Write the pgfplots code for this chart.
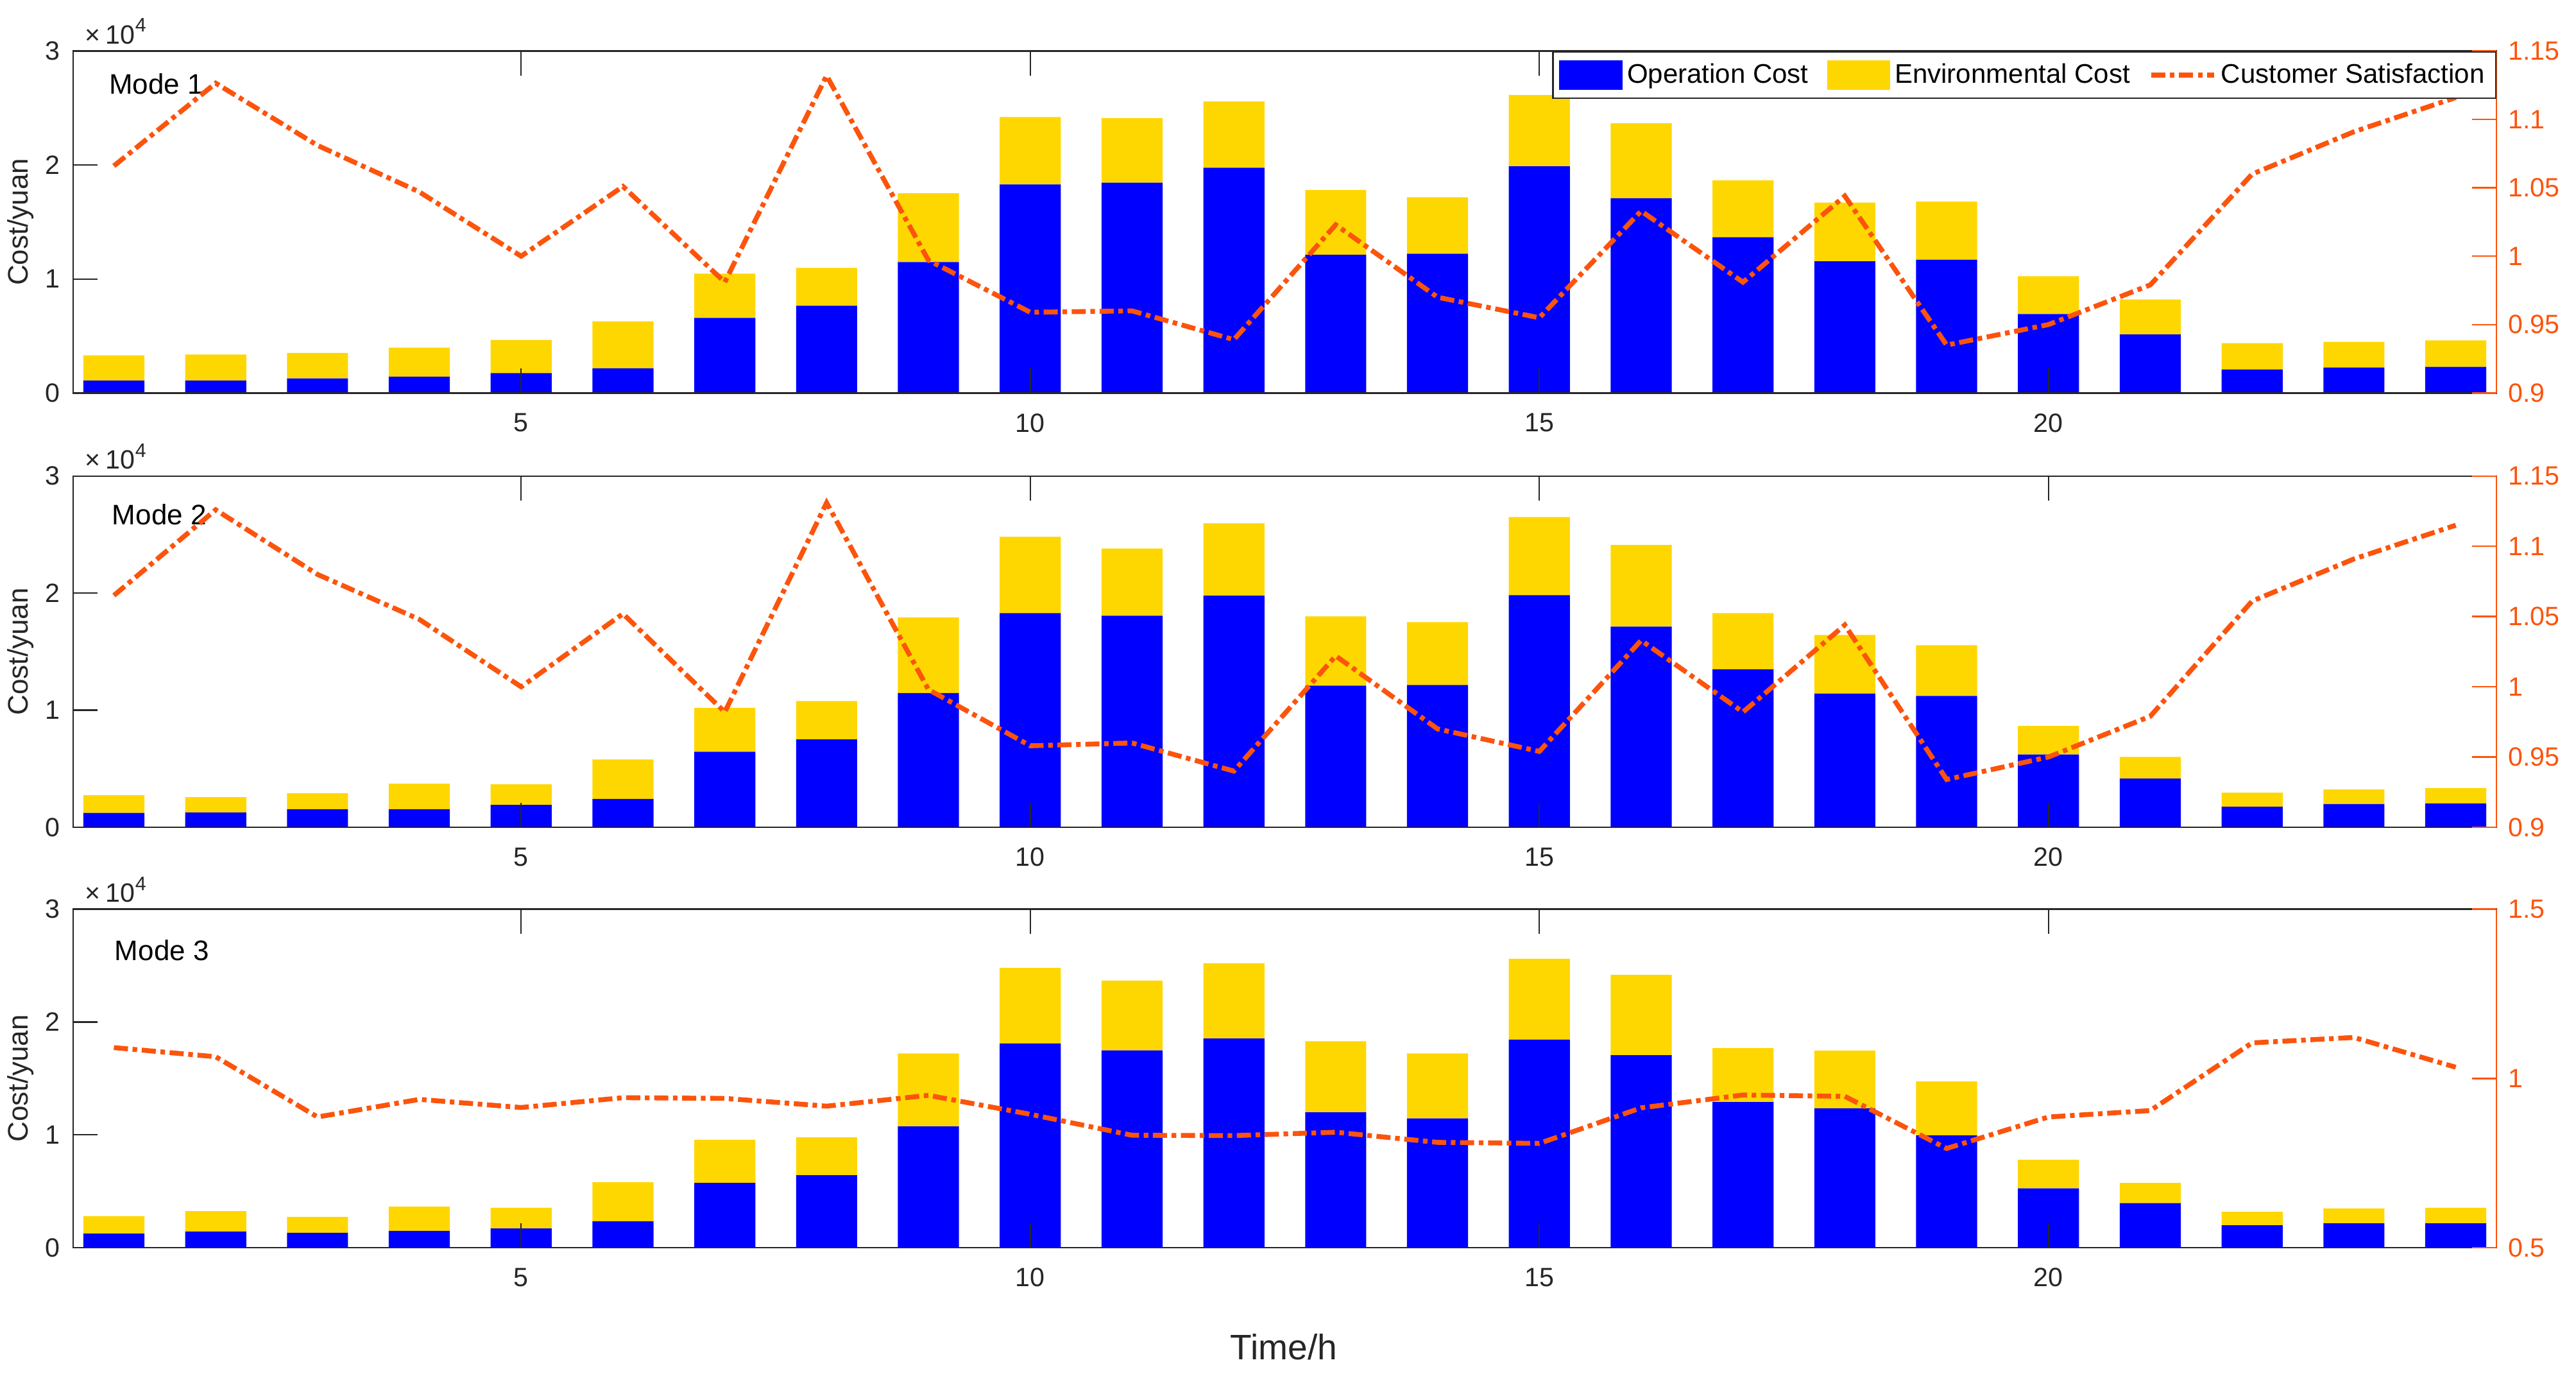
\documentclass[border=0pt]{standalone}
\usepackage{pgfplots}
\usepackage{pgfplotstable}
\usepackage{fontspec}
\setmainfont{Liberation Sans}
\pgfplotsset{compat=1.18}
\definecolor{axgray}{RGB}{38,38,38}
\definecolor{orng}{RGB}{252,84,12}
\definecolor{gld}{RGB}{255,215,0}
\definecolor{opblue}{RGB}{0,0,255}
\newcommand\ticksize{\fontsize{10.3}{12}\selectfont}
\newcommand\legsize{\fontsize{10.5}{12}\selectfont}
\newcommand\modesize{\fontsize{11}{13}\selectfont}
\newcommand\tenfour{×\hspace{2.2pt}10\raisebox{4.6pt}{\fontsize{7.6}{8}\selectfont 4}}

\pgfplotstableread{
x op env sat
1 1100 2200 1.066
2 1100 2270 1.1265
3 1280 2240 1.081
4 1430 2550 1.047
5 1740 2920 1.000
6 2160 4130 1.051
7 6590 3880 0.981
8 7650 3320 1.132
9 11480 6040 0.997
10 18300 5910 0.959
11 18450 5660 0.960
12 19760 5810 0.939
13 12130 5670 1.023
14 12210 4960 0.970
15 19880 6250 0.955
16 17090 6570 1.033
17 13670 4980 0.981
18 11550 5160 1.044
19 11700 5090 0.935
20 6920 3320 0.950
21 5130 3080 0.979
22 2060 2320 1.060
23 2240 2240 1.091
24 2290 2320 1.116
}\dataA

\pgfplotstableread{
x op env sat
1 1220 1520 1.065
2 1270 1300 1.126
3 1540 1370 1.080
4 1540 2180 1.048
5 1910 1760 1.000
6 2420 3370 1.052
7 6450 3750 0.982
8 7510 3270 1.131
9 11470 6450 0.998
10 18290 6530 0.958
11 18070 5740 0.960
12 19780 6190 0.940
13 12100 5920 1.022
14 12150 5380 0.970
15 19830 6670 0.954
16 17140 6970 1.033
17 13500 4790 0.982
18 11420 5010 1.044
19 11220 4330 0.934
20 6210 2450 0.950
21 4160 1850 0.979
22 1760 1200 1.061
23 1980 1250 1.091
24 2030 1320 1.115
}\dataB

\pgfplotstableread{
x op env sat
1 1240 1540 1.091
2 1430 1800 1.064
3 1320 1400 0.886
4 1480 2160 0.938
5 1700 1830 0.914
6 2340 3460 0.943
7 5740 3830 0.941
8 6420 3360 0.918
9 10750 6470 0.950
10 18090 6710 0.894
11 17490 6180 0.832
12 18540 6660 0.831
13 11990 6310 0.841
14 11460 5760 0.811
15 18440 7170 0.808
16 17060 7120 0.913
17 12910 4770 0.951
18 12350 5120 0.947
19 9950 4790 0.793
20 5260 2530 0.886
21 3940 1800 0.905
22 1990 1190 1.105
23 2160 1320 1.121
24 2160 1370 1.033
}\dataC

\pgfplotsset{
  leftax/.style={
    scale only axis, width=944.25pt, anchor=south west,
    xmin=0.6, xmax=24.4, ymin=0, ymax=30000,
    xtick={5,10,15,20}, ytick={0,10000,20000,30000}, yticklabels={0,1,2,3},
    scaled y ticks=false,
    xtick pos=both, ytick pos=left, tick align=inside, major tick length=9.5pt,
    axis line style={draw=axgray, line width=0.6pt},
    tick style={draw=axgray, line width=0.6pt},
    ticklabel style={font=\ticksize, text=axgray},
    xticklabel style={yshift=-4.5pt}, yticklabel style={xshift=-1.5pt},
    /pgf/number format/assume math mode=true,
    ybar stacked, bar width=0.6, axis on top, clip mode=individual,
  },
  rightax/.style={
    scale only axis, width=944.25pt, anchor=south west,
    xmin=0.6, xmax=24.4,
    axis x line=none, axis y line*=right,
    tick align=inside, major tick length=9.5pt,
    y axis line style={-, draw=orng, line width=0.6pt},
    ytick style={draw=orng, line width=0.6pt},
    yticklabel style={font=\ticksize, text=orng, xshift=1pt},
    /pgf/number format/assume math mode=true,
  },
  satline/.style={draw=orng, line width=1.9pt, dash pattern=on 5.5pt off 1.8pt on 1.8pt off 1.8pt, mark=none,
    legend image code/.code={\draw[##1] (0pt,0pt) -- (24.5pt,0pt);}},
}

\begin{document}
\begin{tikzpicture}
\useasboundingbox (0,0) rectangle (1003.75pt,535.75pt);

% ---------- Panel 1 ----------
\begin{axis}[leftax, at={(28.5pt,382.67pt)}, height=133.2pt]
\addplot[fill=opblue, draw=none] table[x=x,y=op]{\dataA};
\addplot[fill=gld, draw=none] table[x=x,y=env]{\dataA};
\node[anchor=base west, xshift=1pt, yshift=2.8pt, font=\ticksize, text=axgray] at (rel axis cs:0,1) {\tenfour};
\node[anchor=base west, xshift=10.5pt, yshift=-16.7pt, font=\modesize] at (rel axis cs:0,1) {Mode 1};
\end{axis}
\begin{axis}[rightax, at={(28.5pt,382.67pt)}, height=133.2pt,
  ymin=0.9, ymax=1.15, ytick={0.9,0.95,1,1.05,1.1,1.15}, yticklabels={0.9,0.95,1,1.05,1.1,1.15},
  legend columns=3,
  legend style={at={(1,1)}, anchor=north east, draw=axgray, line width=0.6pt, fill=white,
    font=\legsize, inner xsep=2.5pt, inner ysep=3pt,
    nodes={inner xsep=1.8pt, inner ysep=1.5pt, text=black},
    /tikz/every even column/.append style={column sep=5.5pt}}]
\addlegendimage{legend image code/.code={\fill[opblue] (0pt,-5.4pt) rectangle (24pt,5.4pt);}}
\addlegendentry{Operation Cost}
\addlegendimage{legend image code/.code={\fill[gld] (0pt,-5.4pt) rectangle (24pt,5.4pt);}}
\addlegendentry{Environmental Cost}
\addplot[satline] table[x=x,y=sat]{\dataA};
\addlegendentry{Customer Satisfaction}
\end{axis}

% ---------- Panel 2 ----------
\begin{axis}[leftax, at={(28.5pt,213.5pt)}, height=136.8pt]
\addplot[fill=opblue, draw=none] table[x=x,y=op]{\dataB};
\addplot[fill=gld, draw=none] table[x=x,y=env]{\dataB};
\node[anchor=base west, xshift=1pt, yshift=2.8pt, font=\ticksize, text=axgray] at (rel axis cs:0,1) {\tenfour};
\node[anchor=base west, xshift=11.7pt, yshift=-18.8pt, font=\modesize] at (rel axis cs:0,1) {Mode 2};
\end{axis}
\begin{axis}[rightax, at={(28.5pt,213.5pt)}, height=136.8pt,
  ymin=0.9, ymax=1.15, ytick={0.9,0.95,1,1.05,1.1,1.15}, yticklabels={0.9,0.95,1,1.05,1.1,1.15}]
\addplot[satline] table[x=x,y=sat]{\dataB};
\end{axis}

% ---------- Panel 3 ----------
\begin{axis}[leftax, at={(28.5pt,49.75pt)}, height=131.85pt]
\addplot[fill=opblue, draw=none] table[x=x,y=op]{\dataC};
\addplot[fill=gld, draw=none] table[x=x,y=env]{\dataC};
\node[anchor=base west, xshift=1pt, yshift=2.8pt, font=\ticksize, text=axgray] at (rel axis cs:0,1) {\tenfour};
\node[anchor=base west, xshift=12.7pt, yshift=-20pt, font=\modesize] at (rel axis cs:0,1) {Mode 3};
\end{axis}
\begin{axis}[rightax, at={(28.5pt,49.75pt)}, height=131.85pt,
  ymin=0.5, ymax=1.5, ytick={0.5,1,1.5}, yticklabels={0.5,1,1.5}]
\addplot[satline] table[x=x,y=sat]{\dataC};
\end{axis}

% ---------- Axis labels ----------
\node[rotate=90, anchor=base, font=\fontsize{11}{13}\selectfont, text=axgray] at (10.75pt,449.3pt) {Cost/yuan};
\node[rotate=90, anchor=base, font=\fontsize{11}{13}\selectfont, text=axgray] at (10.75pt,281.9pt) {Cost/yuan};
\node[rotate=90, anchor=base, font=\fontsize{11}{13}\selectfont, text=axgray] at (10.75pt,115.67pt) {Cost/yuan};
\node[anchor=base, font=\fontsize{13.8}{16}\selectfont, text=axgray] at (500.25pt,6.25pt) {Time/h};
\end{tikzpicture}
\end{document}
